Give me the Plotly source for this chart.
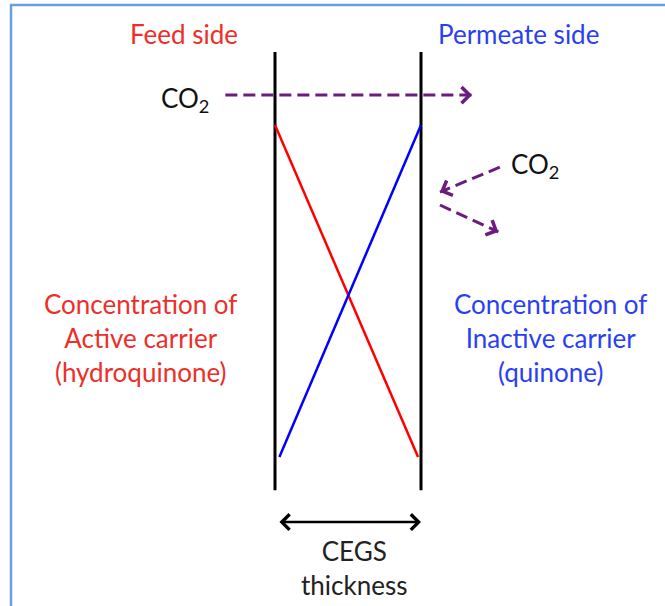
import math
import plotly.graph_objects as go

# membrane position (0 = feed face, 1 = permeate face)
membrane_faces = [0.0, 1.0]
membrane_extent = [-0.10, 1.22]

# carrier concentration profiles across the membrane
active_x = [0.0, 0.98]
active_conc = [1.0, 0.0]
inactive_x = [0.03, 1.0]
inactive_conc = [0.0, 1.0]

# CO2 paths (thickness, concentration-level)
co2_through_x = [-0.34, 1.35]
co2_through_y = [1.09, 1.09]
co2_in_x = [1.54, 1.13]
co2_in_y = [0.873, 0.798]
co2_out_x = [1.13, 1.53]
co2_out_y = [0.759, 0.678]
thickness_y = -0.196

W, H = 665, 606
X0, XS = 275, 146   # pixel of x=0, pixels per unit
Y0, YS = 457, 332   # pixel of conc=0, pixels per unit


def px(x):
    return (x - X0) / XS


def py(y):
    return (Y0 - y) / YS


FONT = "Lato"
FS = 26
RED_TXT = "#ec2f2a"
BLUE_TXT = "#2b3ff2"
PURPLE = "#6b1c7c"

fig = go.Figure()

# membrane faces
for xm in membrane_faces:
    fig.add_trace(go.Scatter(x=[xm, xm], y=membrane_extent, mode="lines",
                             line=dict(color="black", width=3), hoverinfo="skip"))

# concentration profiles
fig.add_trace(go.Scatter(x=active_x, y=active_conc, mode="lines",
                         line=dict(color="#ff0000", width=2.5), hoverinfo="skip"))
fig.add_trace(go.Scatter(x=inactive_x, y=inactive_conc, mode="lines",
                         line=dict(color="#0000ff", width=2.5), hoverinfo="skip"))

# dashed CO2 arrows
for xs, ys in [(co2_through_x, co2_through_y), (co2_in_x, co2_in_y), (co2_out_x, co2_out_y)]:
    fig.add_trace(go.Scatter(x=xs, y=ys, mode="lines",
                             line=dict(color=PURPLE, width=3, dash="12px,6px"), hoverinfo="skip"))
    # arrow head at the end, short solid stub in screen pixels
    dxs = (xs[-1] - xs[-2]) * XS
    dys = -(ys[-1] - ys[-2]) * YS
    n = math.hypot(dxs, dys)
    fig.add_annotation(x=xs[-1], y=ys[-1], ax=-dxs / n * 9, ay=-dys / n * 9,
                       xref="x", yref="y", text="",
                       showarrow=True, arrowhead=4, arrowsize=1.25, arrowwidth=2.5,
                       arrowcolor=PURPLE)

# thickness double arrow
fig.add_annotation(x=membrane_faces[1], y=thickness_y, ax=membrane_faces[0] + 0.02, ay=thickness_y,
                   xref="x", yref="y", axref="x", ayref="y", text="",
                   showarrow=True, arrowhead=4, startarrowhead=4, arrowside="end+start",
                   arrowsize=1.2, startarrowsize=1.2, arrowwidth=2.5, arrowcolor="black")

labels = [
    ("Feed side", 184, 34, RED_TXT),
    ("Permeate side", 518, 34, BLUE_TXT),
    ("CO<sub>2</sub>", 185, 99, "#111111"),
    ("CO<sub>2</sub>", 535, 165, "#111111"),
    ("Concentration of<br>Active carrier<br>(hydroquinone)", 140, 338, RED_TXT),
    ("Concentration of<br>Inactive carrier<br>(quinone)", 550, 338, BLUE_TXT),
    ("CEGS<br>thickness", 354, 568, "#222222"),
]
for text, lx, ly, col in labels:
    fig.add_annotation(x=px(lx), y=py(ly), xref="x", yref="y", text=text, showarrow=False,
                       font=dict(family=FONT, size=FS, color=col), align="center")

# frame around the slide region
fig.add_shape(type="rect", xref="paper", yref="paper", x0=11 / W, x1=1.05, y0=-0.05, y1=1 - 5 / H,
              line=dict(color="#6aa0da", width=2.5))

fig.update_layout(
    width=W, height=H,
    margin=dict(l=0, r=0, t=0, b=0),
    paper_bgcolor="white", plot_bgcolor="white",
    showlegend=False,
    xaxis=dict(range=[px(0), px(W)], visible=False, fixedrange=True),
    yaxis=dict(range=[py(H), py(0)], visible=False, fixedrange=True),
)

# page body has a default 8px margin; drop it so the figure sits at the window origin
fig.write_html("out.html", config={"displayModeBar": False},
               post_script="document.body.style.margin='0';")
